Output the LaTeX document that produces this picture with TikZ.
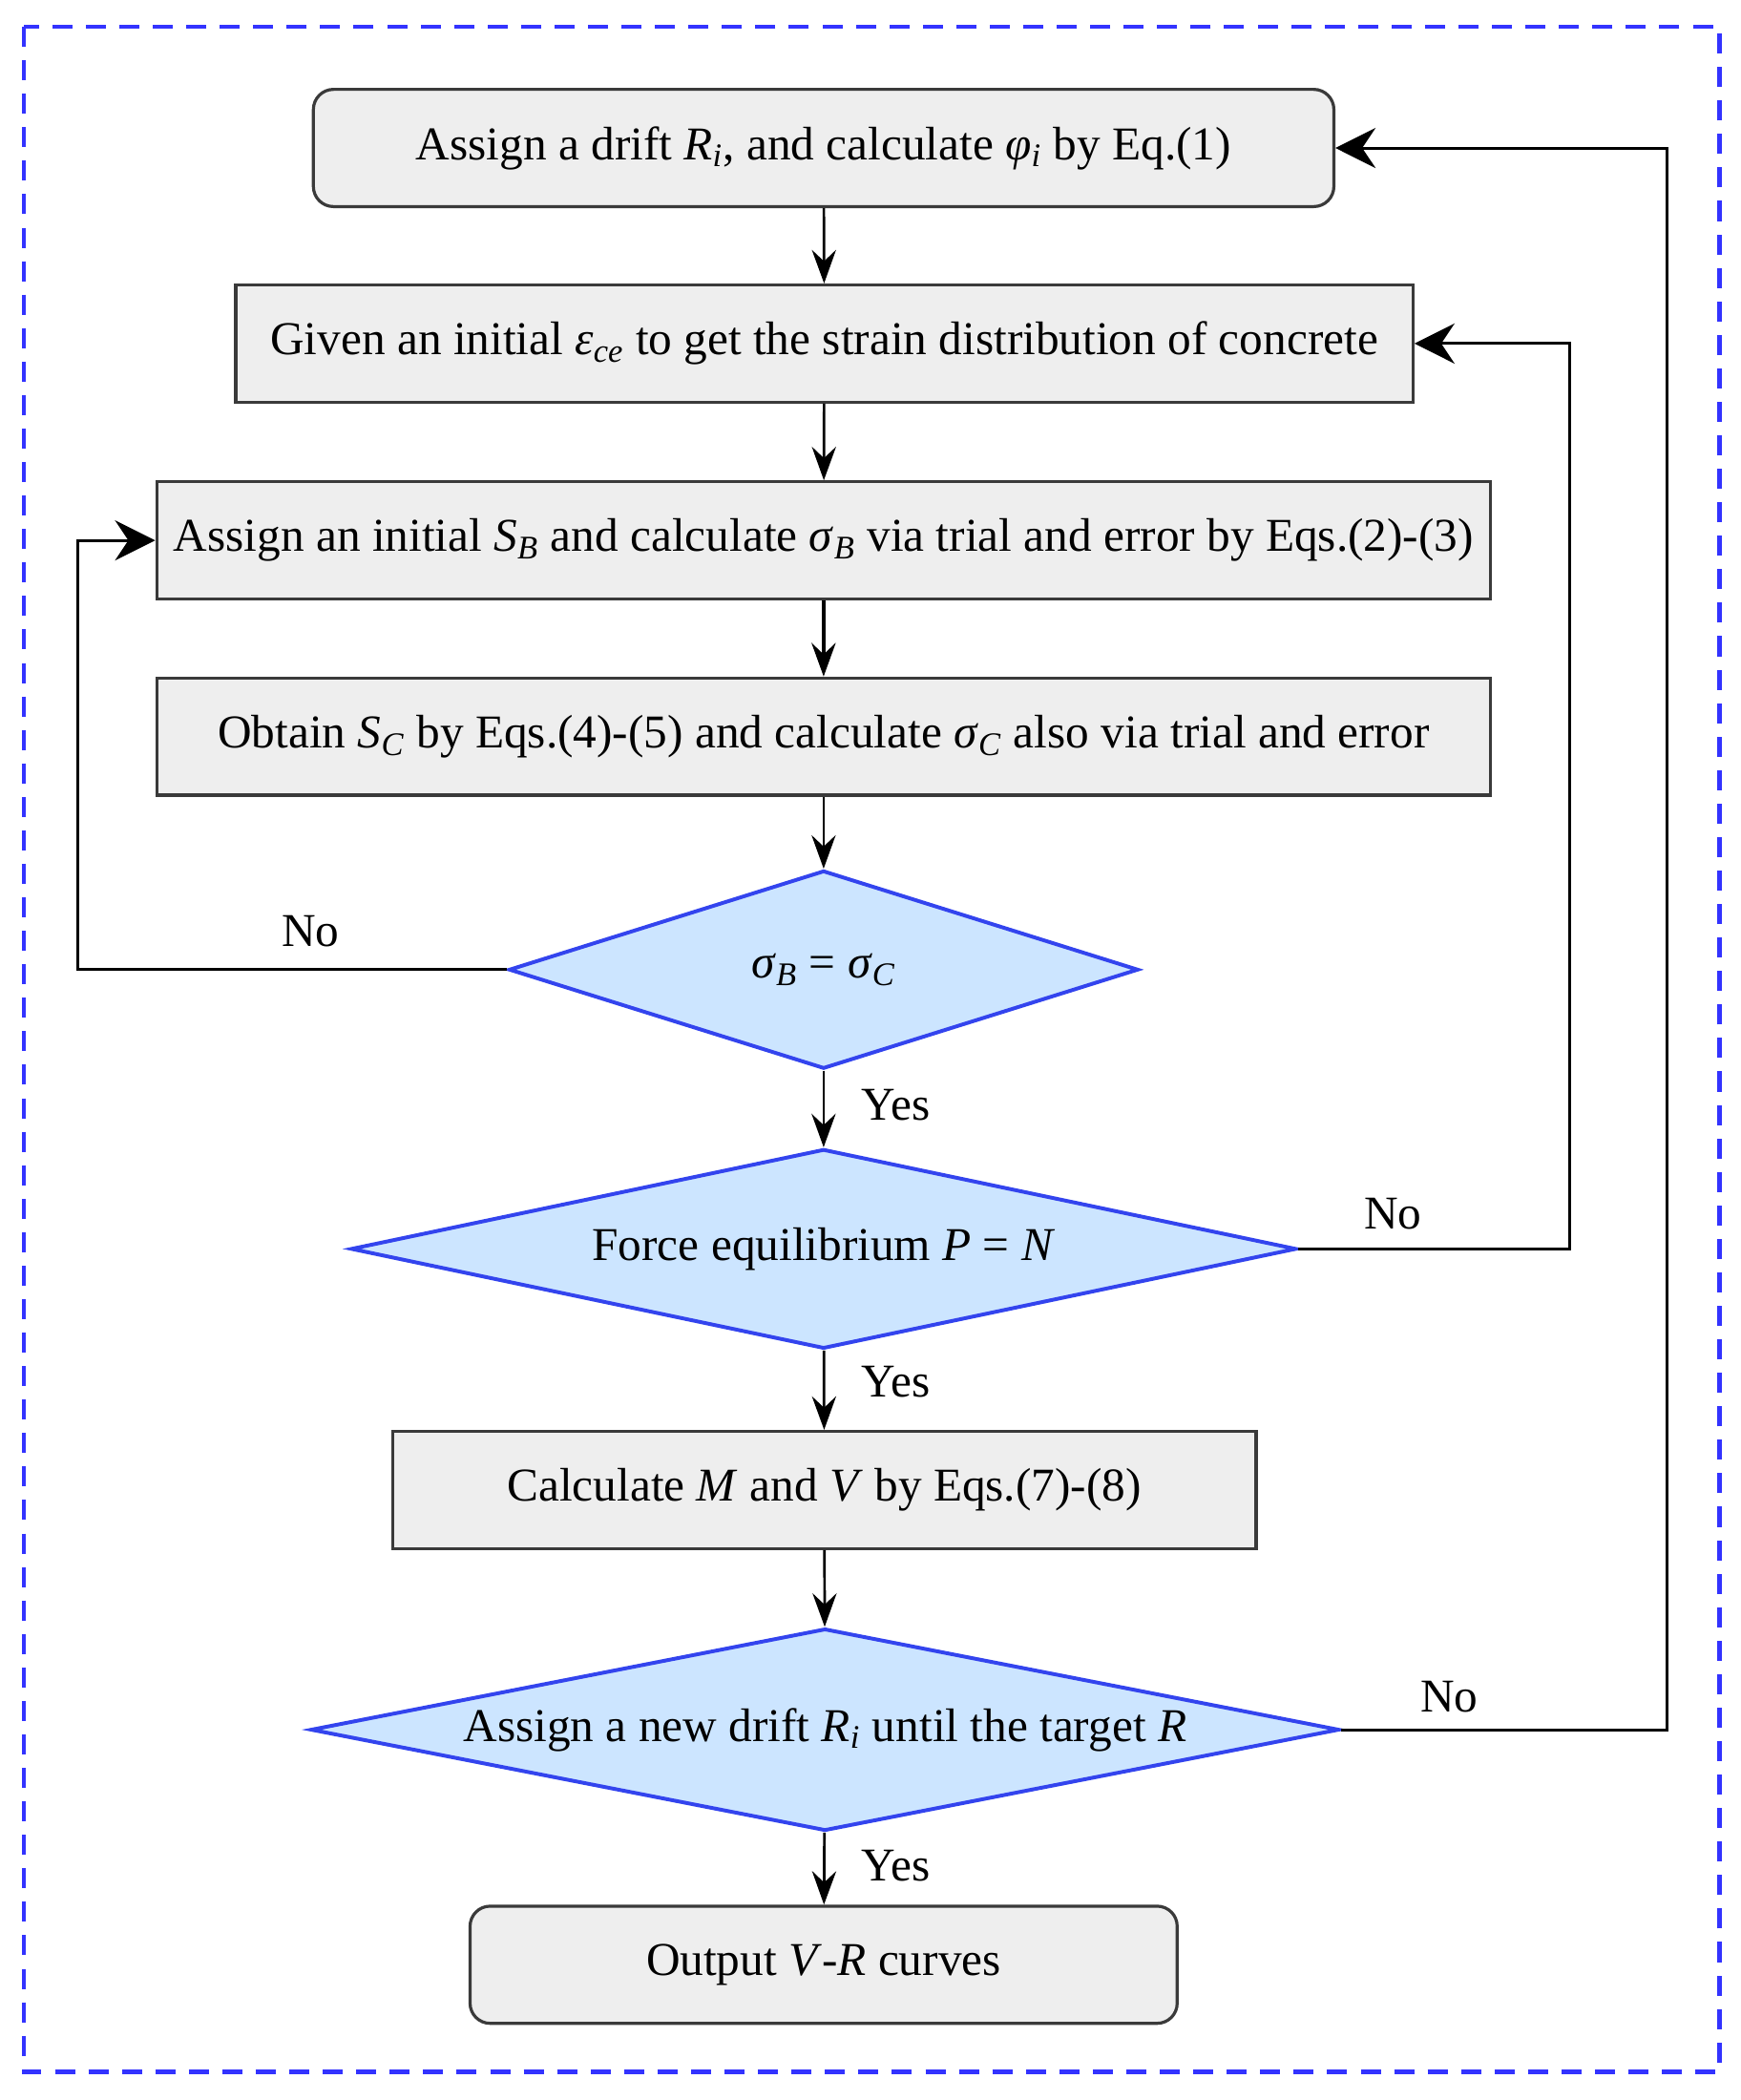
\documentclass[tikz,border=0pt]{standalone}
\usepackage{fontspec}
\setmainfont{Liberation Serif}
\usetikzlibrary{shapes.geometric,arrows.meta}

\definecolor{boxfill}{HTML}{EEEEEE}
\definecolor{boxedge}{HTML}{3A3A3A}
\definecolor{checkfill}{HTML}{CCE5FF}
\definecolor{checkedge}{HTML}{3344EE}
\definecolor{frameblue}{HTML}{3333FF}

\newcommand{\varsub}[2]{\textit{#1}\textsubscript{\textit{#2}}}

\begin{document}
\begin{tikzpicture}[scale=2]
            \tikzstyle{every node}+=[font=\fontsize{20}{24}\selectfont, inner sep=0pt]
            \tikzstyle{stepbox}=[draw=boxedge, fill=boxfill, line width=1.3pt, minimum height=1.75cm]
            \tikzstyle{endbox}=[stepbox, rounded corners=0.3cm]
            \tikzstyle{check}=[diamond, draw=checkedge, fill=checkfill, line width=1.6pt]
            \tikzstyle{flow}=[black, line width=1.1pt, -{Stealth[length=0.5cm, width=0.36cm, inset=0.17cm]}]
            \tikzstyle{back}=[black, line width=1.2pt, -{Stealth[length=0.6cm, width=0.6cm, inset=0.2cm]}]
            \useasboundingbox (0,0) rectangle (13,-15.68);
            \draw [frameblue, line width=1.8pt, dash pattern=on 0.3cm off 0.2cm] (0.18,-0.2) rectangle (12.84,-15.47);
            \node [endbox, minimum width=15.24cm] (drift) at (6.15,-1.105) {Assign a drift \varsub{R}{i}, and calculate \varsub{φ}{i} by Eq.(1)};
            \node [stepbox, minimum width=17.58cm] (strain) at (6.155,-2.565) {Given an initial \varsub{ε}{ce} to get the strain distribution of concrete};
            \node [stepbox, minimum width=19.92cm] (sigmab) at (6.15,-4.035) {Assign an initial \varsub{S}{B} and calculate \varsub{σ}{B} via trial and error by Eqs.(2)-(3)};
            \node [stepbox, minimum width=19.92cm] (sigmac) at (6.15,-5.5) {Obtain \varsub{S}{C} by Eqs.(4)-(5) and calculate \varsub{σ}{C} also via trial and error};
            \node [check, aspect=3.18, minimum width=9.4cm, minimum height=2.96cm] (equal) at (6.15,-7.24) {\varsub{σ}{B} = \varsub{σ}{C}};
            \node [check, aspect=4.74, minimum width=14.12cm, minimum height=2.98cm] (force) at (6.15,-9.325) {Force equilibrium \textit{P} = \textit{N}};
            \node [stepbox, minimum width=12.9cm] (moment) at (6.155,-11.125) {Calculate \textit{M} and \textit{V} by Eqs.(7)-(8)};
            \node [check, aspect=5.09, minimum width=15.36cm, minimum height=3.02cm] (target) at (6.16,-12.915) {Assign a new drift \varsub{R}{i} until the target \textit{R}};
            \node [endbox, minimum width=10.56cm] (output) at (6.15,-14.67) {Output \textit{V}-\textit{R} curves};
            \coordinate (leftx) at (0.58,0);
            \coordinate (midx) at (11.72,0);
            \coordinate (rightx) at (12.45,0);
            \draw [flow] (drift) -- (strain);
            \draw [flow] (strain) -- (sigmab);
            \draw [flow, line width=1.5pt] (sigmab) -- (sigmac);
            \draw [flow] (sigmac) -- (equal);
            \draw [flow] (equal) -- (force);
            \draw [flow] (force) -- (moment);
            \draw [flow] (moment) -- (target);
            \draw [flow] (target) -- (output);
            \draw [back] (equal.west) -| (leftx |- sigmab.west) -- (sigmab.west);
            \draw [back] (force.east) -| (midx |- strain.east) -- (strain.east);
            \draw [back] (target.east) -| (rightx |- drift.east) -- (drift.east);
            \node (yes1) at (6.69,-8.25) {Yes};
            \node (yes2) at (6.69,-10.32) {Yes};
            \node (yes3) at (6.69,-13.93) {Yes};
            \node (no1) at (2.32,-6.95) {No};
            \node (no2) at (10.40,-9.06) {No};
            \node (no3) at (10.82,-12.67) {No};
        \end{tikzpicture}
\end{document}
